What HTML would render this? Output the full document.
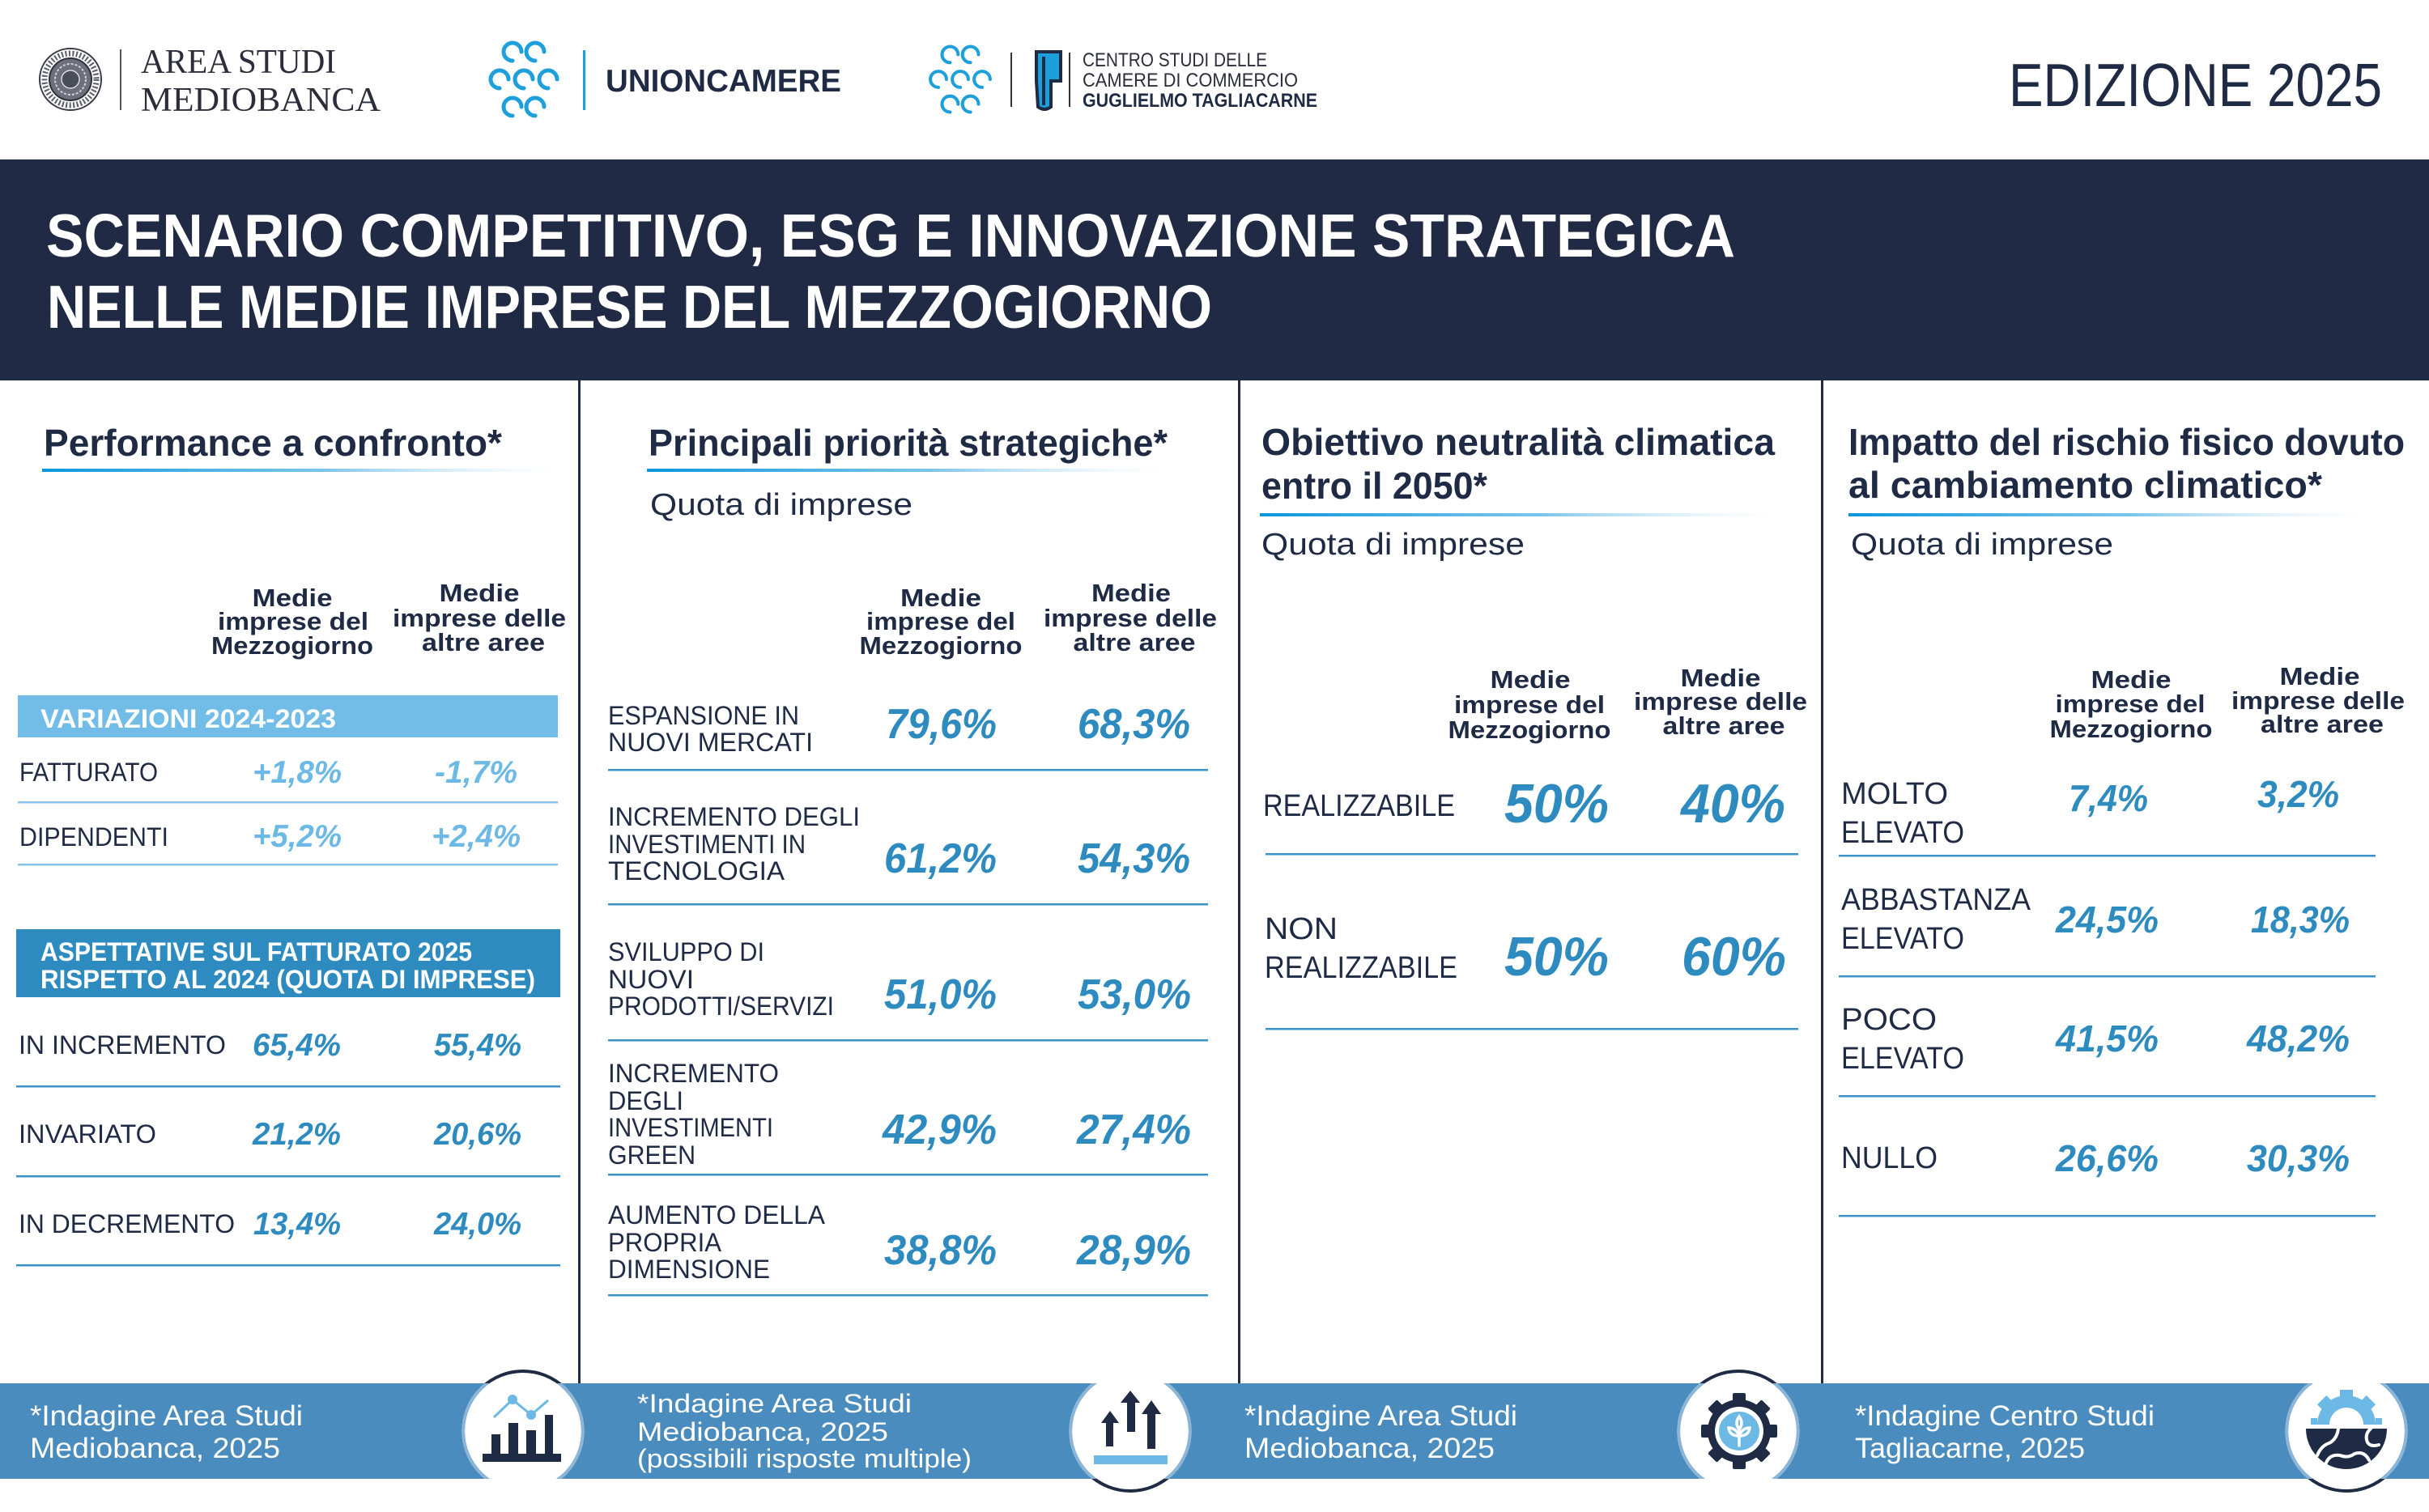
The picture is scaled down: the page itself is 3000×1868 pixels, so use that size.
<!DOCTYPE html>
<html>
<head>
<meta charset="utf-8">
<style>
  html,body{margin:0;padding:0;background:#fff;}
  svg{display:block;}
  text{font-family:"Liberation Sans",Arial,sans-serif;}
  .lbl{font-size:32px;fill:#1f2a44;font-weight:400;}
  .lbl38{font-size:38px;fill:#1f2a44;font-weight:400;}
  .hdr{font-size:31px;fill:#1f2a44;font-weight:700;text-anchor:middle;}
  .ttl{font-size:46px;fill:#1f2a44;font-weight:700;}
  .sub{font-size:38px;fill:#1f2a44;font-weight:400;}
  .v1{font-size:39px;font-weight:700;font-style:italic;fill:#6cb9e6;}
  .v1d{font-size:39px;font-weight:700;font-style:italic;fill:#2e8bc0;}
  .v2{font-size:52px;font-weight:700;font-style:italic;fill:#2e8bc0;}
  .v3{font-size:68px;font-weight:700;font-style:italic;fill:#2e8bc0;}
  .v4{font-size:46px;font-weight:700;font-style:italic;fill:#2e8bc0;}
  .box{font-size:32px;font-weight:700;fill:#fff;}
  .ft{font-size:35px;fill:#fff;font-weight:400;}
  .ft2{font-size:32px;fill:#fff;font-weight:400;}
</style>
</head>
<body>
<svg width="3000" height="1868" viewBox="0 0 3000 1868" xmlns="http://www.w3.org/2000/svg">
  <defs>
    <linearGradient id="ul" x1="0" y1="0" x2="1" y2="0">
      <stop offset="0" stop-color="#0a96dc" stop-opacity="1"/>
      <stop offset="0.55" stop-color="#5bb6e6" stop-opacity="0.8"/>
      <stop offset="1" stop-color="#cfe9f7" stop-opacity="0"/>
    </linearGradient>
    <clipPath id="clipTop"><rect x="0" y="1600" width="3000" height="227"/></clipPath>
    <clipPath id="clipBot"><rect x="0" y="1709" width="3000" height="200"/></clipPath>
    <clipPath id="clipBand"><rect x="0" y="1709" width="3000" height="118"/></clipPath>
  </defs>

  <rect x="0" y="0" width="3000" height="1868" fill="#ffffff"/>

  <!-- ================= HEADER LOGOS ================= -->
  <!-- Mediobanca seal -->
  <g>
    <circle cx="87" cy="98" r="38" fill="#ffffff" stroke="#3a3d48" stroke-width="2"/>
    <circle cx="87" cy="98" r="32" fill="none" stroke="#5a5e6a" stroke-width="7" stroke-dasharray="2 2.5"/>
    <circle cx="87" cy="98" r="26" fill="#6b707c" stroke="#2f323b" stroke-width="2"/>
    <circle cx="87" cy="98" r="19" fill="none" stroke="#cfd1d6" stroke-width="2" stroke-dasharray="3 2"/>
    <circle cx="87" cy="98" r="11" fill="#4a4e59" stroke="#d9dbe0" stroke-width="1.5"/>
  </g>
  <rect x="148" y="61" width="2" height="75" fill="#555"/>
  <text x="174" y="90" textLength="241" lengthAdjust="spacingAndGlyphs" style="font-family:'Liberation Serif',serif;font-size:42px;fill:#2b2d3a;">AREA STUDI</text>
  <text x="174" y="137" textLength="296" lengthAdjust="spacingAndGlyphs" style="font-family:'Liberation Serif',serif;font-size:42px;fill:#2b2d3a;">MEDIOBANCA</text>

  <!-- Unioncamere knot -->
  <g fill="none" stroke="#1c9fdb" stroke-width="5" stroke-linecap="round">
    <g transform="translate(647,98)">
      <path d="M -3 -34 a 11 11 0 1 0 -11 11"/>
      <path d="M 25 -34 a 11 11 0 1 0 -11 11"/>
      <path d="M -19 0 a 11 11 0 1 0 -11 11"/>
      <path d="M 11 0 a 11 11 0 1 0 -11 11"/>
      <path d="M 41 0 a 11 11 0 1 0 -11 11"/>
      <path d="M -3 34 a 11 11 0 1 0 -11 11"/>
      <path d="M 25 34 a 11 11 0 1 0 -11 11"/>
    </g>
  </g>
  <rect x="720" y="62" width="3" height="74" fill="#1c9fdb"/>
  <text x="748" y="113" textLength="291" lengthAdjust="spacingAndGlyphs" style="font-size:39px;font-weight:700;fill:#1f2a44;">UNIONCAMERE</text>

  <!-- Tagliacarne -->
  <g fill="none" stroke="#1c9fdb" stroke-width="4.5" stroke-linecap="round">
    <g transform="translate(1186,98) scale(0.9)">
      <path d="M -3 -34 a 11 11 0 1 0 -11 11"/>
      <path d="M 25 -34 a 11 11 0 1 0 -11 11"/>
      <path d="M -19 0 a 11 11 0 1 0 -11 11"/>
      <path d="M 11 0 a 11 11 0 1 0 -11 11"/>
      <path d="M 41 0 a 11 11 0 1 0 -11 11"/>
      <path d="M -3 34 a 11 11 0 1 0 -11 11"/>
      <path d="M 25 34 a 11 11 0 1 0 -11 11"/>
    </g>
  </g>
  <rect x="1248" y="65" width="2" height="67" fill="#333"/>
  <path d="M1280 64 L1310 64 L1310 100 L1298 100 L1298 132 Q1290 138 1282 132 L1280 100 Z" fill="#1c9fdb" stroke="#1f2a44" stroke-width="4"/>
  <rect x="1287" y="70" width="4" height="60" fill="#1f2a44"/>
  <rect x="1320" y="65" width="2" height="67" fill="#333"/>
  <text x="1337" y="82" textLength="228" lengthAdjust="spacingAndGlyphs" style="font-size:24px;fill:#2b2d3a;">CENTRO STUDI DELLE</text>
  <text x="1337" y="107" textLength="266" lengthAdjust="spacingAndGlyphs" style="font-size:24px;fill:#2b2d3a;">CAMERE DI COMMERCIO</text>
  <text x="1337" y="132" textLength="290" lengthAdjust="spacingAndGlyphs" style="font-size:24px;font-weight:700;fill:#1f2a44;">GUGLIELMO TAGLIACARNE</text>

  <text x="2481" y="131" textLength="461" lengthAdjust="spacingAndGlyphs" style="font-size:75px;fill:#1f2a44;">EDIZIONE 2025</text>

  <!-- ================= TITLE BAND ================= -->
  <rect x="0" y="197" width="3000" height="273" fill="#212a45"/>
  <text x="57" y="317" textLength="2086" lengthAdjust="spacingAndGlyphs" style="font-size:75px;font-weight:700;fill:#ffffff;">SCENARIO COMPETITIVO, ESG E INNOVAZIONE STRATEGICA</text>
  <text x="58" y="405" textLength="1439" lengthAdjust="spacingAndGlyphs" style="font-size:75px;font-weight:700;fill:#ffffff;">NELLE MEDIE IMPRESE DEL MEZZOGIORNO</text>

  <!-- column dividers -->
  <rect x="714" y="470" width="3" height="1239" fill="#1f2a44"/>
  <rect x="1529" y="470" width="3" height="1239" fill="#1f2a44"/>
  <rect x="2249" y="470" width="3" height="1239" fill="#1f2a44"/>

  <!-- ================= COLUMN 1 ================= -->
  <text class="ttl" x="54" y="563" textLength="566" lengthAdjust="spacingAndGlyphs">Performance a confronto*</text>
  <rect x="52" y="579" width="637" height="4" fill="url(#ul)"/>

  <text class="hdr" x="361" y="749" textLength="99" lengthAdjust="spacingAndGlyphs">Medie</text>
  <text class="hdr" x="362" y="778" textLength="186" lengthAdjust="spacingAndGlyphs">imprese del</text>
  <text class="hdr" x="361" y="808" textLength="200" lengthAdjust="spacingAndGlyphs">Mezzogiorno</text>
  <text class="hdr" x="592" y="743" textLength="99" lengthAdjust="spacingAndGlyphs">Medie</text>
  <text class="hdr" x="592" y="774" textLength="214" lengthAdjust="spacingAndGlyphs">imprese delle</text>
  <text class="hdr" x="597" y="804" textLength="152" lengthAdjust="spacingAndGlyphs">altre aree</text>

  <rect x="22" y="859" width="667" height="52" fill="#72bde8"/>
  <text class="box" x="50" y="899" textLength="365" lengthAdjust="spacingAndGlyphs">VARIAZIONI 2024-2023</text>

  <text class="lbl" x="24" y="965" textLength="171" lengthAdjust="spacingAndGlyphs">FATTURATO</text>
  <text class="v1" x="312" y="967" textLength="110" lengthAdjust="spacingAndGlyphs">+1,8%</text>
  <text class="v1" x="537" y="967" textLength="102" lengthAdjust="spacingAndGlyphs">-1,7%</text>
  <rect x="22" y="990" width="667" height="2.5" fill="#86c3ea"/>

  <text class="lbl" x="24" y="1045" textLength="184" lengthAdjust="spacingAndGlyphs">DIPENDENTI</text>
  <text class="v1" x="312" y="1046" textLength="110" lengthAdjust="spacingAndGlyphs">+5,2%</text>
  <text class="v1" x="533" y="1046" textLength="110" lengthAdjust="spacingAndGlyphs">+2,4%</text>
  <rect x="22" y="1067" width="667" height="2.5" fill="#86c3ea"/>

  <rect x="20" y="1148" width="672" height="84" fill="#2e8bc0"/>
  <text class="box" x="50" y="1187" textLength="533" lengthAdjust="spacingAndGlyphs">ASPETTATIVE SUL FATTURATO 2025</text>
  <text class="box" x="50" y="1221" textLength="611" lengthAdjust="spacingAndGlyphs">RISPETTO AL 2024 (QUOTA DI IMPRESE)</text>

  <text class="lbl" x="23" y="1302" textLength="256" lengthAdjust="spacingAndGlyphs">IN INCREMENTO</text>
  <text class="v1d" x="312" y="1304" textLength="109" lengthAdjust="spacingAndGlyphs">65,4%</text>
  <text class="v1d" x="536" y="1304" textLength="108" lengthAdjust="spacingAndGlyphs">55,4%</text>
  <rect x="20" y="1341" width="672" height="2.5" fill="#3a93c8"/>

  <text class="lbl" x="23" y="1412" textLength="170" lengthAdjust="spacingAndGlyphs">INVARIATO</text>
  <text class="v1d" x="312" y="1414" textLength="109" lengthAdjust="spacingAndGlyphs">21,2%</text>
  <text class="v1d" x="536" y="1414" textLength="108" lengthAdjust="spacingAndGlyphs">20,6%</text>
  <rect x="20" y="1452" width="672" height="2.5" fill="#3a93c8"/>

  <text class="lbl" x="23" y="1523" textLength="267" lengthAdjust="spacingAndGlyphs">IN DECREMENTO</text>
  <text class="v1d" x="313" y="1525" textLength="108" lengthAdjust="spacingAndGlyphs">13,4%</text>
  <text class="v1d" x="536" y="1525" textLength="108" lengthAdjust="spacingAndGlyphs">24,0%</text>
  <rect x="20" y="1562" width="672" height="2.5" fill="#3a93c8"/>

  <!-- ================= COLUMN 2 ================= -->
  <text class="ttl" x="801" y="563" textLength="641" lengthAdjust="spacingAndGlyphs">Principali priorità strategiche*</text>
  <rect x="799" y="579" width="638" height="4" fill="url(#ul)"/>
  <text class="sub" x="803" y="636" textLength="324" lengthAdjust="spacingAndGlyphs">Quota di imprese</text>

  <text class="hdr" x="1162" y="749" textLength="100" lengthAdjust="spacingAndGlyphs">Medie</text>
  <text class="hdr" x="1162" y="778" textLength="184" lengthAdjust="spacingAndGlyphs">imprese del</text>
  <text class="hdr" x="1162" y="808" textLength="201" lengthAdjust="spacingAndGlyphs">Mezzogiorno</text>
  <text class="hdr" x="1397" y="743" textLength="98" lengthAdjust="spacingAndGlyphs">Medie</text>
  <text class="hdr" x="1396" y="774" textLength="214" lengthAdjust="spacingAndGlyphs">imprese delle</text>
  <text class="hdr" x="1401" y="804" textLength="151" lengthAdjust="spacingAndGlyphs">altre aree</text>

  <text class="lbl" x="751" y="895" textLength="236" lengthAdjust="spacingAndGlyphs">ESPANSIONE IN</text>
  <text class="lbl" x="751" y="928" textLength="253" lengthAdjust="spacingAndGlyphs">NUOVI MERCATI</text>
  <text class="v2" x="1094" y="912" textLength="137" lengthAdjust="spacingAndGlyphs">79,6%</text>
  <text class="v2" x="1331" y="912" textLength="139" lengthAdjust="spacingAndGlyphs">68,3%</text>
  <rect x="751" y="950" width="741" height="2.5" fill="#3a93c8"/>

  <text class="lbl" x="751" y="1020" textLength="311" lengthAdjust="spacingAndGlyphs">INCREMENTO DEGLI</text>
  <text class="lbl" x="751" y="1054" textLength="244" lengthAdjust="spacingAndGlyphs">INVESTIMENTI IN</text>
  <text class="lbl" x="751" y="1087" textLength="218" lengthAdjust="spacingAndGlyphs">TECNOLOGIA</text>
  <text class="v2" x="1092" y="1078" textLength="139" lengthAdjust="spacingAndGlyphs">61,2%</text>
  <text class="v2" x="1331" y="1078" textLength="139" lengthAdjust="spacingAndGlyphs">54,3%</text>
  <rect x="751" y="1116" width="741" height="2.5" fill="#3a93c8"/>

  <text class="lbl" x="751" y="1187" textLength="193" lengthAdjust="spacingAndGlyphs">SVILUPPO DI</text>
  <text class="lbl" x="751" y="1221" textLength="106" lengthAdjust="spacingAndGlyphs">NUOVI</text>
  <text class="lbl" x="751" y="1254" textLength="279" lengthAdjust="spacingAndGlyphs">PRODOTTI/SERVIZI</text>
  <text class="v2" x="1092" y="1246" textLength="139" lengthAdjust="spacingAndGlyphs">51,0%</text>
  <text class="v2" x="1331" y="1246" textLength="140" lengthAdjust="spacingAndGlyphs">53,0%</text>
  <rect x="751" y="1284" width="741" height="2.5" fill="#3a93c8"/>

  <text class="lbl" x="751" y="1337" textLength="211" lengthAdjust="spacingAndGlyphs">INCREMENTO</text>
  <text class="lbl" x="751" y="1371" textLength="93" lengthAdjust="spacingAndGlyphs">DEGLI</text>
  <text class="lbl" x="751" y="1404" textLength="204" lengthAdjust="spacingAndGlyphs">INVESTIMENTI</text>
  <text class="lbl" x="751" y="1438" textLength="108" lengthAdjust="spacingAndGlyphs">GREEN</text>
  <text class="v2" x="1090" y="1413" textLength="141" lengthAdjust="spacingAndGlyphs">42,9%</text>
  <text class="v2" x="1330" y="1413" textLength="141" lengthAdjust="spacingAndGlyphs">27,4%</text>
  <rect x="751" y="1450" width="741" height="2.5" fill="#3a93c8"/>

  <text class="lbl" x="751" y="1512" textLength="268" lengthAdjust="spacingAndGlyphs">AUMENTO DELLA</text>
  <text class="lbl" x="751" y="1546" textLength="140" lengthAdjust="spacingAndGlyphs">PROPRIA</text>
  <text class="lbl" x="751" y="1579" textLength="200" lengthAdjust="spacingAndGlyphs">DIMENSIONE</text>
  <text class="v2" x="1092" y="1562" textLength="139" lengthAdjust="spacingAndGlyphs">38,8%</text>
  <text class="v2" x="1330" y="1562" textLength="141" lengthAdjust="spacingAndGlyphs">28,9%</text>
  <rect x="751" y="1599" width="741" height="2.5" fill="#3a93c8"/>

  <!-- ================= COLUMN 3 ================= -->
  <text class="ttl" x="1558" y="562" textLength="634" lengthAdjust="spacingAndGlyphs">Obiettivo neutralità climatica</text>
  <text class="ttl" x="1558" y="616" textLength="279" lengthAdjust="spacingAndGlyphs">entro il 2050*</text>
  <rect x="1556" y="634" width="635" height="4" fill="url(#ul)"/>
  <text class="sub" x="1558" y="685" textLength="325" lengthAdjust="spacingAndGlyphs">Quota di imprese</text>

  <text class="hdr" x="1890" y="850" textLength="99" lengthAdjust="spacingAndGlyphs">Medie</text>
  <text class="hdr" x="1889" y="881" textLength="186" lengthAdjust="spacingAndGlyphs">imprese del</text>
  <text class="hdr" x="1889" y="912" textLength="201" lengthAdjust="spacingAndGlyphs">Mezzogiorno</text>
  <text class="hdr" x="2125" y="848" textLength="99" lengthAdjust="spacingAndGlyphs">Medie</text>
  <text class="hdr" x="2125" y="877" textLength="214" lengthAdjust="spacingAndGlyphs">imprese delle</text>
  <text class="hdr" x="2129" y="907" textLength="151" lengthAdjust="spacingAndGlyphs">altre aree</text>

  <text class="lbl38" x="1560" y="1008" textLength="237" lengthAdjust="spacingAndGlyphs">REALIZZABILE</text>
  <text class="v3" x="1858" y="1016" textLength="129" lengthAdjust="spacingAndGlyphs">50%</text>
  <text class="v3" x="2076" y="1016" textLength="129" lengthAdjust="spacingAndGlyphs">40%</text>
  <rect x="1563" y="1054" width="658" height="2.5" fill="#3a93c8"/>

  <text class="lbl38" x="1562" y="1160" textLength="90" lengthAdjust="spacingAndGlyphs">NON</text>
  <text class="lbl38" x="1562" y="1208" textLength="238" lengthAdjust="spacingAndGlyphs">REALIZZABILE</text>
  <text class="v3" x="1858" y="1205" textLength="129" lengthAdjust="spacingAndGlyphs">50%</text>
  <text class="v3" x="2077" y="1205" textLength="129" lengthAdjust="spacingAndGlyphs">60%</text>
  <rect x="1563" y="1270" width="658" height="2.5" fill="#3a93c8"/>

  <!-- ================= COLUMN 4 ================= -->
  <text class="ttl" x="2283" y="562" textLength="687" lengthAdjust="spacingAndGlyphs">Impatto del  rischio fisico dovuto</text>
  <text class="ttl" x="2283" y="615" textLength="585" lengthAdjust="spacingAndGlyphs">al cambiamento climatico*</text>
  <rect x="2283" y="634" width="637" height="4" fill="url(#ul)"/>
  <text class="sub" x="2286" y="685" textLength="324" lengthAdjust="spacingAndGlyphs">Quota di imprese</text>

  <text class="hdr" x="2632" y="850" textLength="99" lengthAdjust="spacingAndGlyphs">Medie</text>
  <text class="hdr" x="2631" y="880" textLength="185" lengthAdjust="spacingAndGlyphs">imprese del</text>
  <text class="hdr" x="2632" y="911" textLength="201" lengthAdjust="spacingAndGlyphs">Mezzogiorno</text>
  <text class="hdr" x="2865" y="846" textLength="99" lengthAdjust="spacingAndGlyphs">Medie</text>
  <text class="hdr" x="2863" y="876" textLength="214" lengthAdjust="spacingAndGlyphs">imprese delle</text>
  <text class="hdr" x="2868" y="905" textLength="152" lengthAdjust="spacingAndGlyphs">altre aree</text>

  <text class="lbl38" x="2274" y="993" textLength="132" lengthAdjust="spacingAndGlyphs">MOLTO</text>
  <text class="lbl38" x="2274" y="1041" textLength="152" lengthAdjust="spacingAndGlyphs">ELEVATO</text>
  <text class="v4" x="2555" y="1002" textLength="98" lengthAdjust="spacingAndGlyphs">7,4%</text>
  <text class="v4" x="2788" y="997" textLength="101" lengthAdjust="spacingAndGlyphs">3,2%</text>
  <rect x="2271" y="1056" width="663" height="2.5" fill="#3a93c8"/>

  <text class="lbl38" x="2274" y="1124" textLength="234" lengthAdjust="spacingAndGlyphs">ABBASTANZA</text>
  <text class="lbl38" x="2274" y="1172" textLength="152" lengthAdjust="spacingAndGlyphs">ELEVATO</text>
  <text class="v4" x="2539" y="1152" textLength="127" lengthAdjust="spacingAndGlyphs">24,5%</text>
  <text class="v4" x="2780" y="1152" textLength="122" lengthAdjust="spacingAndGlyphs">18,3%</text>
  <rect x="2271" y="1205" width="663" height="2.5" fill="#3a93c8"/>

  <text class="lbl38" x="2274" y="1272" textLength="118" lengthAdjust="spacingAndGlyphs">POCO</text>
  <text class="lbl38" x="2274" y="1320" textLength="152" lengthAdjust="spacingAndGlyphs">ELEVATO</text>
  <text class="v4" x="2539" y="1299" textLength="127" lengthAdjust="spacingAndGlyphs">41,5%</text>
  <text class="v4" x="2775" y="1299" textLength="127" lengthAdjust="spacingAndGlyphs">48,2%</text>
  <rect x="2271" y="1353" width="663" height="2.5" fill="#3a93c8"/>

  <text class="lbl38" x="2274" y="1443" textLength="119" lengthAdjust="spacingAndGlyphs">NULLO</text>
  <text class="v4" x="2539" y="1447" textLength="127" lengthAdjust="spacingAndGlyphs">26,6%</text>
  <text class="v4" x="2775" y="1447" textLength="127" lengthAdjust="spacingAndGlyphs">30,3%</text>
  <rect x="2271" y="1501" width="663" height="2.5" fill="#3a93c8"/>

  <!-- ================= FOOTER ================= -->
  <rect x="0" y="1709" width="3000" height="118" fill="#4a8cbd"/>

  <text class="ft" x="37" y="1761" textLength="337" lengthAdjust="spacingAndGlyphs">*Indagine Area Studi</text>
  <text class="ft" x="37" y="1801" textLength="309" lengthAdjust="spacingAndGlyphs">Mediobanca, 2025</text>

  <text class="ft2" x="787" y="1745" textLength="339" lengthAdjust="spacingAndGlyphs">*Indagine Area Studi</text>
  <text class="ft2" x="787" y="1780" textLength="310" lengthAdjust="spacingAndGlyphs">Mediobanca, 2025</text>
  <text class="ft2" x="787" y="1813" textLength="413" lengthAdjust="spacingAndGlyphs">(possibili risposte multiple)</text>

  <text class="ft" x="1537" y="1761" textLength="337" lengthAdjust="spacingAndGlyphs">*Indagine Area Studi</text>
  <text class="ft" x="1537" y="1801" textLength="309" lengthAdjust="spacingAndGlyphs">Mediobanca, 2025</text>

  <text class="ft" x="2291" y="1761" textLength="370" lengthAdjust="spacingAndGlyphs">*Indagine Centro Studi</text>
  <text class="ft" x="2291" y="1801" textLength="284" lengthAdjust="spacingAndGlyphs">Tagliacarne, 2025</text>

  <!-- circles: col1 & col3 extend above band; col2 & col4 extend below -->
  <g clip-path="url(#clipTop)">
    <circle cx="646" cy="1768" r="74" fill="#ffffff" stroke="#1f2a44" stroke-width="4"/>
    <circle cx="2147" cy="1768" r="74" fill="#ffffff" stroke="#1f2a44" stroke-width="4"/>
  </g>
  <g clip-path="url(#clipBot)">
    <circle cx="1396" cy="1768" r="74" fill="#ffffff" stroke="#1f2a44" stroke-width="4"/>
    <circle cx="2898" cy="1768" r="74" fill="#ffffff" stroke="#1f2a44" stroke-width="4"/>
  </g>
  <g clip-path="url(#clipBand)" fill="none" stroke="#8ab6da" stroke-width="4">
    <circle cx="646" cy="1768" r="74"/>
    <circle cx="2147" cy="1768" r="74"/>
    <circle cx="1396" cy="1768" r="74"/>
    <circle cx="2898" cy="1768" r="74"/>
  </g>

  <!-- icon 1: chart -->
  <rect x="596" y="1796" width="97" height="10" fill="#1f2a44"/>
  <rect x="607" y="1772" width="11" height="26" fill="#1f2a44"/>
  <rect x="628" y="1758" width="12" height="40" fill="#1f2a44"/>
  <rect x="650" y="1767" width="12" height="31" fill="#1f2a44"/>
  <rect x="673" y="1748" width="10" height="50" fill="#1f2a44"/>
  <polyline points="610,1751 633,1729 656,1748 677,1730" fill="none" stroke="#6cb9e6" stroke-width="3"/>
  <circle cx="633" cy="1729" r="6" fill="#6cb9e6"/>
  <circle cx="656" cy="1748" r="6" fill="#6cb9e6"/>

  <!-- icon 2: arrows -->
  <g fill="#1f2a44">
    <polygon points="1371,1743 1382,1758 1375,1758 1375,1787 1366,1787 1366,1758 1360,1758"/>
    <polygon points="1396,1718 1408,1733 1402,1733 1402,1769 1392,1769 1392,1733 1384,1733"/>
    <polygon points="1422,1730 1434,1747 1427,1747 1427,1790 1417,1790 1417,1747 1410,1747"/>
  </g>
  <rect x="1351" y="1798" width="91" height="11" fill="#6cb9e6"/>

  <!-- icon 3: gear with plant -->
  <g transform="translate(2148,1768)">
    <g fill="#1f2a44">
      <circle r="39"/>
      <rect x="-8" y="-47" width="16" height="14" rx="2"/>
      <rect x="-8" y="-47" width="16" height="14" rx="2" transform="rotate(45)"/>
      <rect x="-8" y="-47" width="16" height="14" rx="2" transform="rotate(90)"/>
      <rect x="-8" y="-47" width="16" height="14" rx="2" transform="rotate(135)"/>
      <rect x="-8" y="-47" width="16" height="14" rx="2" transform="rotate(180)"/>
      <rect x="-8" y="-47" width="16" height="14" rx="2" transform="rotate(225)"/>
      <rect x="-8" y="-47" width="16" height="14" rx="2" transform="rotate(270)"/>
      <rect x="-8" y="-47" width="16" height="14" rx="2" transform="rotate(315)"/>
    </g>
    <circle r="30" fill="#ffffff"/>
    <ellipse rx="25" ry="24" fill="#6cb9e6"/>
    <g fill="none" stroke="#ffffff" stroke-width="3.5" stroke-linecap="round">
      <path d="M0 18 L0 -2"/>
      <path d="M0 -2 Q-6 -10 0 -18 Q6 -10 0 -2"/>
      <path d="M0 6 Q-4 -4 -13 -4 Q-12 6 0 6"/>
      <path d="M0 6 Q4 -4 13 -4 Q12 6 0 6"/>
    </g>
  </g>

  <!-- icon 4: gear over earth -->
  <g transform="translate(2898,1760)">
    <g fill="#6cb9e6">
      <path d="M -36 0 A 36 36 0 0 1 36 0 Z"/>
      <rect x="-8" y="-43" width="16" height="12"/>
      <rect x="-8" y="-43" width="16" height="12" transform="rotate(-45)"/>
      <rect x="-8" y="-43" width="16" height="12" transform="rotate(45)"/>
      <rect x="36" y="-8" width="8" height="8"/>
      <rect x="-44" y="-8" width="8" height="8"/>
    </g>
    <path d="M -21 0 A 21 21 0 0 1 21 0 Z" fill="#ffffff"/>
    <path d="M -50 5 L 50 5 A 50 50 0 0 1 -50 5 Z" fill="#1f2a44"/>
    <g fill="none" stroke="#ffffff" stroke-width="4" stroke-linecap="round">
      <path d="M -10 5 Q -12 20 -24 24 Q -32 28 -36 38"/>
      <path d="M 30 5 Q 22 12 26 22 Q 30 28 40 25"/>
      <path d="M -26 50 Q -22 36 -8 38 Q 2 42 10 36 Q 22 32 28 44"/>
    </g>
  </g>
</svg>
</body>
</html>
